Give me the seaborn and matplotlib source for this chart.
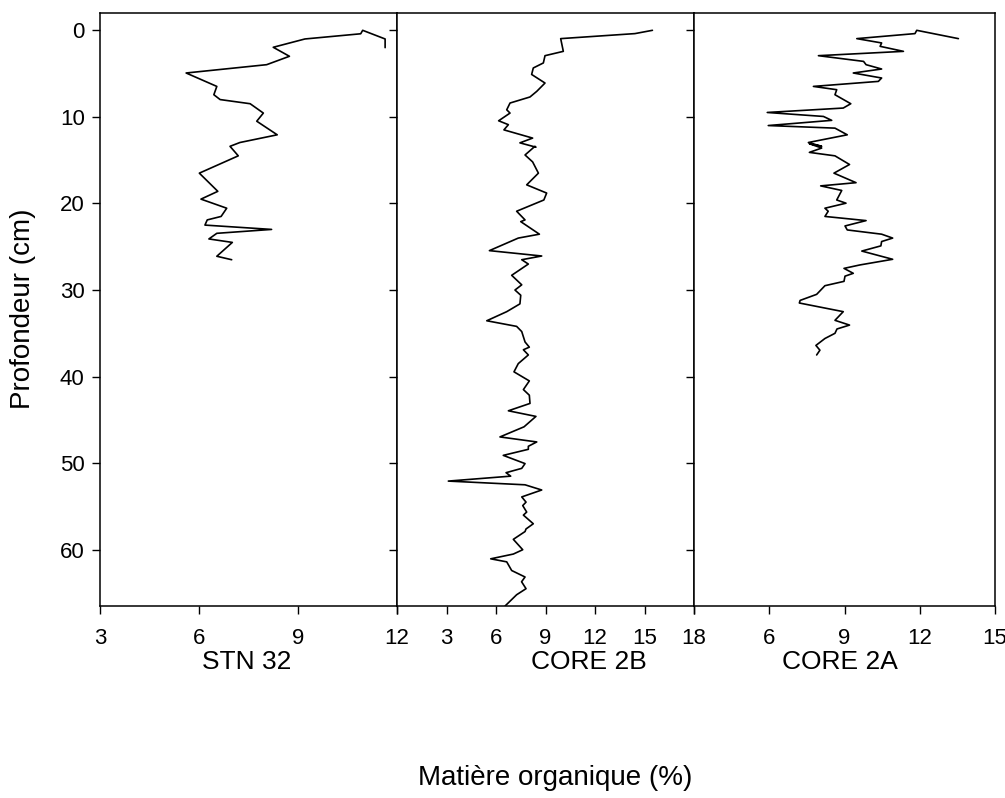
import matplotlib
matplotlib.use("Agg")
import matplotlib.pyplot as plt
import seaborn as sns
import numpy as np

sns.set_style("ticks")
plt.rcParams["font.family"] = ["Liberation Sans", "DejaVu Sans"]
plt.rcParams["text.color"] = "black"
plt.rcParams["xtick.color"] = "black"
plt.rcParams["ytick.color"] = "black"
plt.rcParams["axes.edgecolor"] = "black"

# STN 32 (organic matter %, depth cm) in drawing order
stn32_om = [11.64, 11.64, 10.96, 10.9, 9.21, 8.25, 8.74, 8.05, 5.61, 6.54, 6.45, 6.64,
            7.55, 7.95, 7.75, 8.37, 7.24, 6.94, 7.19, 6.01, 6.57, 6.06, 6.84, 6.67,
            6.25, 6.18, 8.2, 6.54, 6.30, 7.01, 6.54, 6.99]
stn32_depth = [2.0, 1.0, 0.0, 0.4, 1.0, 1.96, 3.0, 3.97, 4.93, 6.48, 7.44, 8.0,
               8.48, 9.56, 10.5, 12.07, 12.96, 13.4, 14.5, 16.5, 18.6, 19.5, 20.55, 21.5,
               21.9, 22.5, 23.0, 23.45, 24.1, 24.5, 26.1, 26.5]

# CORE 2B
core2b_om = [15.48, 14.42, 9.92, 10.08, 8.97, 8.87, 8.26, 8.16, 8.97, 8.47, 8.06, 6.85,
             6.65, 6.85, 6.16, 6.75, 6.48, 8.22, 7.45, 8.42, 8.36, 7.76, 8.22, 8.57,
             7.86, 9.07, 8.9, 7.25, 7.76, 7.5, 8.63, 7.35, 5.6, 8.77, 7.56, 7.96,
             6.95, 7.56, 7.15, 7.5, 7.45, 6.65, 5.44, 7.25, 7.56, 7.76, 8.02, 7.66,
             7.96, 7.35, 7.09, 8.02, 7.66, 8.02, 8.06, 6.75, 8.42, 7.7, 6.24, 8.47,
             7.96, 7.96, 6.44, 7.76, 7.56, 6.61, 6.89, 3.11, 7.76, 8.77, 7.56, 7.82,
             7.62, 7.86, 7.66, 8.26, 7.82, 7.76, 7.05, 7.62, 7.05, 5.68, 6.65, 6.95,
             7.76, 7.55, 7.82, 7.25, 6.55]
core2b_depth = [0.0, 0.38, 0.96, 2.43, 2.93, 3.77, 4.35, 5.1, 6.09, 7.05, 7.7, 8.4,
                9.18, 9.56, 10.45, 10.9, 11.5, 12.45, 13.0, 13.5, 13.4, 14.4, 15.2, 16.5,
                17.85, 18.8, 19.6, 20.9, 21.9, 22.1, 23.55, 24.0, 25.45, 26.07, 26.5, 27.0,
                28.3, 29.4, 30.0, 30.6, 31.6, 32.5, 33.55, 34.2, 34.8, 36.0, 36.6, 36.9,
                37.5, 38.5, 39.45, 40.5, 41.5, 42.15, 43.1, 43.95, 44.6, 45.8, 46.97, 47.55,
                48.05, 48.4, 49.1, 50.05, 50.6, 51.1, 51.5, 52.07, 52.5, 53.1, 53.9, 54.5,
                54.9, 55.65, 56.0, 57.0, 57.6, 57.9, 58.8, 60.0, 60.5, 61.05, 61.4, 62.4,
                63.15, 63.7, 64.5, 65.2, 66.5]

# CORE 2A
core2a_om = [13.54, 11.88, 11.81, 9.49, 10.48, 10.42, 11.35, 7.96, 9.76, 9.86, 10.48, 9.35,
             10.48, 10.35, 7.76, 8.69, 8.62, 9.25, 8.95, 5.92, 8.16, 8.49, 5.96, 8.62,
             9.11, 7.56, 8.09, 7.6, 8.09, 7.6, 8.62, 9.2, 8.58, 9.46, 8.05, 8.89,
             8.69, 9.06, 8.22, 8.35, 8.22, 9.86, 9.02, 9.11, 10.48, 10.92, 10.48, 10.45,
             9.69, 10.92, 9.62, 8.98, 9.35, 9.02, 8.98, 8.22, 7.89, 7.23, 7.2, 8.95,
             8.62, 9.2, 8.7, 8.62, 8.22, 7.86, 8.02, 7.89]
core2a_depth = [0.96, 0.0, 0.38, 0.96, 1.46, 1.85, 2.43, 2.93, 3.59, 3.97, 4.47, 4.93,
                5.51, 5.9, 6.48, 6.86, 7.44, 8.48, 8.98, 9.49, 9.95, 10.4, 11.0, 11.3,
                12.07, 12.96, 13.4, 13.1, 13.6, 14.1, 14.5, 15.5, 16.5, 17.6, 17.97, 18.5,
                19.6, 19.97, 20.55, 20.9, 21.5, 21.98, 22.6, 23.06, 23.55, 24.0, 24.4, 24.9,
                25.5, 26.45, 27.1, 27.5, 28.07, 28.4, 29.0, 29.5, 30.5, 31.2, 31.5, 32.5,
                33.5, 34.05, 34.5, 35.0, 35.6, 36.4, 36.95, 37.5]

panel_names = ["STN 32", "CORE 2B", "CORE 2A"]
depth_ticks = [0, 10, 20, 30, 40, 50, 60]
xlims = [(3, 12), (0, 18), (3, 15)]
xticks = [[3, 6, 9, 12], [0, 3, 6, 9, 12, 15, 18], [3, 6, 9, 12, 15]]
xticklabels = [["3", "6", "9", "12"], ["", "3", "6", "9", "12", "15", "18"],
               ["", "6", "9", "12", "15"]]

series = [(stn32_om, stn32_depth), (core2b_om, core2b_depth), (core2a_om, core2a_depth)]

fig = plt.figure(figsize=(10.05, 7.98), dpi=100)
lefts = [100, 397, 694]
widths = [297, 297, 301]
bottom = 1 - 606 / 798
height = (606 - 13) / 798

for i, (om, depth) in enumerate(series):
    ax = fig.add_axes([lefts[i] / 1005, bottom, widths[i] / 1005, height])
    sns.lineplot(x=om, y=depth, sort=False, estimator=None, color="black",
                 linewidth=1.2, ax=ax)
    ax.set_xlim(*xlims[i])
    ax.set_ylim(66.5, -2)
    ax.set_xticks(xticks[i])
    ax.set_xticklabels(xticklabels[i], fontsize=16)
    ax.set_yticks(depth_ticks)
    if i == 0:
        ax.set_yticklabels([str(t) for t in depth_ticks], fontsize=16)
    else:
        ax.set_yticklabels([])
    ax.tick_params(direction="out", length=6, width=1, color="black")
    ax.tick_params(axis="x", pad=10)
    ax.tick_params(axis="y", pad=5)
    for sp in ax.spines.values():
        sp.set_visible(True)
        sp.set_color("black")
        sp.set_linewidth(1.1)
    ax.set_xlabel("")
    ax.set_ylabel("")
    ax.grid(False)

name_x = [247, 589, 840]
for name, nx in zip(panel_names, name_x):
    fig.text(nx / 1005, 1 - 662 / 798, name, fontsize=19, ha="center", va="center")

fig.text(555 / 1005, 1 - 778 / 798, "Matière organique (%)", fontsize=20,
         ha="center", va="center")
fig.text(23 / 1005, 1 - 309 / 798, "Profondeur (cm)", fontsize=20, rotation=90,
         ha="center", va="center")

fig.savefig("out.png", dpi=100)
